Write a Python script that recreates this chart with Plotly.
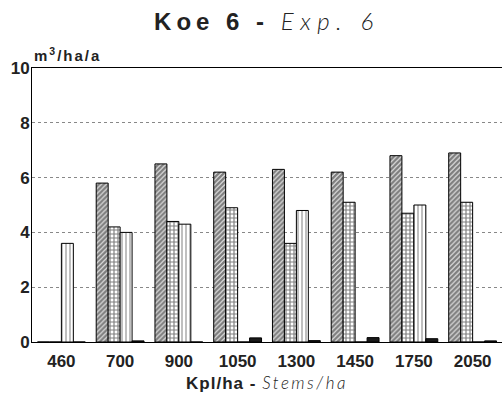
import plotly.graph_objects as go

categories = ["460", "700", "900", "1050", "1300", "1450", "1750", "2050"]
series_hatched = [0, 5.8, 6.5, 6.2, 6.3, 6.2, 6.8, 6.9]
series_dotted = [0, 4.2, 4.4, 4.9, 3.6, 5.1, 4.7, 5.1]
series_striped = [3.6, 4.0, 4.3, 0, 4.8, 0, 5.0, 0]
series_black = [0, 0.04, 0, 0.15, 0.05, 0.16, 0.12, 0.04]
y_ticks = [0, 2, 4, 6, 8, 10]

FONT = "Liberation Sans, Arial, sans-serif"
LIGHT = "font-family:Lato;font-weight:300"

fig = go.Figure()

def add(vals, shape, size, solidity):
    if shape:
        marker = dict(color="white",
                      line=dict(color="black", width=1),
                      pattern=dict(shape=shape, fgcolor="black", bgcolor="white",
                                   size=size, solidity=solidity))
    else:
        marker = dict(color="#1a1a1a", line=dict(color="black", width=1))
    fig.add_trace(go.Bar(x=categories, y=vals, marker=marker, showlegend=False))

add(series_hatched, "/", 3.5, 0.75)
add(series_dotted, "+", 4, 0.5)
add(series_striped, "|", 4, 0.25)
add(series_black, None, 0, 0)

fig.update_layout(
    width=502, height=396,
    margin=dict(l=32, r=0, t=68, b=54),
    paper_bgcolor="white", plot_bgcolor="white",
    barmode="group", bargap=0.186, bargroupgap=0,
    font=dict(family=FONT, color="#222"),
    title=dict(text=("<span style='letter-spacing:5px'><b>Koe 6 - </b></span>"
                     f"<span style='{LIGHT};letter-spacing:6.5px'><i>Exp. 6</i></span>"),
               x=0.5, xref="paper", xanchor="center", y=0.945, yanchor="middle",
               font=dict(size=24, family=FONT, color="#222")),
    xaxis=dict(showline=True, linecolor="black", linewidth=1, mirror=True,
               ticks="", tickfont=dict(size=17, family=FONT, color="#222"),
               ticklabelstandoff=4, showgrid=False,
               tickvals=categories, ticktext=[f"<b>{c}</b>" for c in categories],
               title=dict(text=("<span style='letter-spacing:1px'><b>Kpl/ha - </b></span>"
                                f"<span style='{LIGHT};letter-spacing:2.5px'><i>Stems/ha</i></span>"),
                          font=dict(size=17, family=FONT, color="#222"), standoff=6)),
    yaxis=dict(range=[0, 10], showline=True, linecolor="black", linewidth=1,
               ticks="", tickfont=dict(size=17, family=FONT, color="#222"),
               tickvals=y_ticks, ticktext=[f"<b>{v}</b>" for v in y_ticks],
               ticklabelstandoff=-2,
               showgrid=True, gridcolor="#888", griddash="dot", gridwidth=1,
               zeroline=False),
    annotations=[dict(text="<span style='letter-spacing:2px'><b>m<sup>3</sup>/ha/a</b></span>",
                      xref="paper", yref="paper",
                      x=0, y=1, xanchor="left", yanchor="bottom", yshift=2,
                      showarrow=False, font=dict(size=15, family=FONT, color="#222"))],
)

fig.write_html("out.html")
